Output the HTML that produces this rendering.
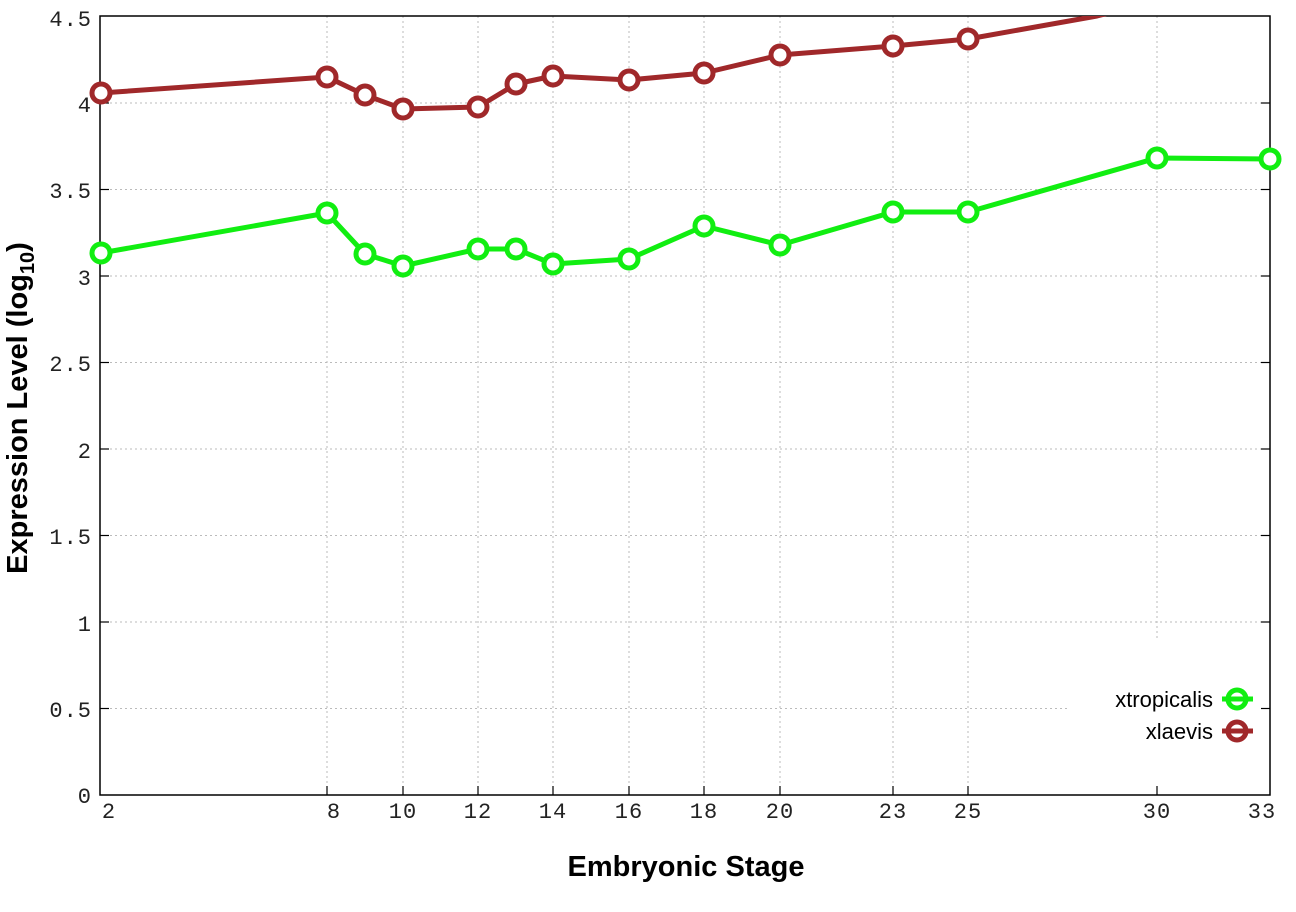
<!DOCTYPE html>
<html><head><meta charset="utf-8"><style>html,body{margin:0;padding:0;background:#fff}</style></head>
<body>
<svg width="1296" height="907" viewBox="0 0 1296 907" xmlns="http://www.w3.org/2000/svg">
<defs><clipPath id="c"><rect x="100" y="16" width="1170" height="779"/></clipPath></defs>
<rect width="1296" height="907" fill="#fff"/>
<g stroke="#bbb" stroke-width="1" stroke-dasharray="2,3">
<line x1="100" y1="103" x2="1270" y2="103"/>
<line x1="100" y1="189.5" x2="1270" y2="189.5"/>
<line x1="100" y1="276" x2="1270" y2="276"/>
<line x1="100" y1="362.5" x2="1270" y2="362.5"/>
<line x1="100" y1="449" x2="1270" y2="449"/>
<line x1="100" y1="535.5" x2="1270" y2="535.5"/>
<line x1="100" y1="622" x2="1270" y2="622"/>
<line x1="100" y1="708.5" x2="1070" y2="708.5"/>
<line x1="327" y1="16" x2="327" y2="795"/>
<line x1="403" y1="16" x2="403" y2="795"/>
<line x1="478" y1="16" x2="478" y2="795"/>
<line x1="553" y1="16" x2="553" y2="795"/>
<line x1="629" y1="16" x2="629" y2="795"/>
<line x1="704" y1="16" x2="704" y2="795"/>
<line x1="780" y1="16" x2="780" y2="795"/>
<line x1="893" y1="16" x2="893" y2="795"/>
<line x1="968" y1="16" x2="968" y2="795"/>
<line x1="1157" y1="16" x2="1157" y2="640"/>
</g>
<rect x="100" y="16" width="1170" height="779" fill="none" stroke="#000" stroke-width="1.5"/>
<g stroke="#000" stroke-width="1.2">
<line x1="100" y1="103" x2="109" y2="103"/><line x1="1261" y1="103" x2="1270" y2="103"/>
<line x1="100" y1="189.5" x2="109" y2="189.5"/><line x1="1261" y1="189.5" x2="1270" y2="189.5"/>
<line x1="100" y1="276" x2="109" y2="276"/><line x1="1261" y1="276" x2="1270" y2="276"/>
<line x1="100" y1="362.5" x2="109" y2="362.5"/><line x1="1261" y1="362.5" x2="1270" y2="362.5"/>
<line x1="100" y1="449" x2="109" y2="449"/><line x1="1261" y1="449" x2="1270" y2="449"/>
<line x1="100" y1="535.5" x2="109" y2="535.5"/><line x1="1261" y1="535.5" x2="1270" y2="535.5"/>
<line x1="100" y1="622" x2="109" y2="622"/><line x1="1261" y1="622" x2="1270" y2="622"/>
<line x1="100" y1="708.5" x2="109" y2="708.5"/><line x1="1261" y1="708.5" x2="1270" y2="708.5"/>
<line x1="327" y1="795" x2="327" y2="786"/><line x1="403" y1="795" x2="403" y2="786"/>
<line x1="478" y1="795" x2="478" y2="786"/><line x1="553" y1="795" x2="553" y2="786"/>
<line x1="629" y1="795" x2="629" y2="786"/><line x1="704" y1="795" x2="704" y2="786"/>
<line x1="780" y1="795" x2="780" y2="786"/><line x1="893" y1="795" x2="893" y2="786"/>
<line x1="968" y1="795" x2="968" y2="786"/><line x1="1157" y1="795" x2="1157" y2="786"/>
</g>
<g font-family="Liberation Mono, monospace" font-size="22" fill="#222" text-anchor="end" letter-spacing="1">
<text x="92" y="26">4.5</text><text x="92" y="112">4</text><text x="92" y="198">3.5</text>
<text x="92" y="285">3</text><text x="92" y="371">2.5</text><text x="92" y="458">2</text>
<text x="92" y="544">1.5</text><text x="92" y="631">1</text><text x="92" y="717">0.5</text>
<text x="92" y="803">0</text>
</g>
<g font-family="Liberation Mono, monospace" font-size="22" fill="#222" text-anchor="middle" letter-spacing="1">
<text x="109" y="818">2</text><text x="334" y="818">8</text><text x="403" y="818">10</text>
<text x="478" y="818">12</text><text x="553" y="818">14</text><text x="629" y="818">16</text>
<text x="704" y="818">18</text><text x="780" y="818">20</text><text x="893" y="818">23</text>
<text x="968" y="818">25</text><text x="1157" y="818">30</text><text x="1262" y="818">33</text>
</g>
<text x="686" y="876" font-family="Liberation Sans, sans-serif" font-weight="bold" font-size="29" text-anchor="middle">Embryonic Stage</text>
<text transform="translate(27,408) rotate(-90)" font-family="Liberation Sans, sans-serif" font-weight="bold" font-size="29" text-anchor="middle">Expression Level (log<tspan font-size="20" dy="7">10</tspan><tspan dy="-7">)</tspan></text>
<g fill="none" stroke-width="5" stroke-linejoin="round">
<polyline clip-path="url(#c)" stroke="#a0282a" points="101,93 327,77 365,95 403,109 478,107 516,84 553,76 629,80 704,73 780,55 893,46 968,39 1097,16 1140,5"/>
<g stroke="#a0282a" stroke-width="5" fill="#fff">
<circle cx="101" cy="93" r="9"/><circle cx="327" cy="77" r="9"/><circle cx="365" cy="95" r="9"/><circle cx="403" cy="109" r="9"/><circle cx="478" cy="107" r="9"/><circle cx="516" cy="84" r="9"/><circle cx="553" cy="76" r="9"/><circle cx="629" cy="80" r="9"/><circle cx="704" cy="73" r="9"/><circle cx="780" cy="55" r="9"/><circle cx="893" cy="46" r="9"/><circle cx="968" cy="39" r="9"/>
</g>
<polyline stroke="#11ee11" points="101,253 327,213 365,254 403,266 478,249 516,249 553,264 629,259 704,226 780,245 893,212 968,212 1157,158 1270,159"/>
<g stroke="#11ee11" stroke-width="5" fill="#fff">
<circle cx="101" cy="253" r="9"/><circle cx="327" cy="213" r="9"/><circle cx="365" cy="254" r="9"/><circle cx="403" cy="266" r="9"/><circle cx="478" cy="249" r="9"/><circle cx="516" cy="249" r="9"/><circle cx="553" cy="264" r="9"/><circle cx="629" cy="259" r="9"/><circle cx="704" cy="226" r="9"/><circle cx="780" cy="245" r="9"/><circle cx="893" cy="212" r="9"/><circle cx="968" cy="212" r="9"/><circle cx="1157" cy="158" r="9"/><circle cx="1270" cy="159" r="9"/>
</g>
</g>
<g font-family="Liberation Sans, sans-serif" font-size="22" fill="#000" text-anchor="end">
<text x="1213" y="707">xtropicalis</text><text x="1213" y="739">xlaevis</text>
</g>
<line x1="1222" y1="699" x2="1253" y2="699" stroke="#11ee11" stroke-width="5"/>
<circle cx="1237" cy="699" r="9" fill="none" stroke="#11ee11" stroke-width="5"/>
<line x1="1222" y1="731" x2="1253" y2="731" stroke="#a0282a" stroke-width="5"/>
<circle cx="1237" cy="731" r="9" fill="none" stroke="#a0282a" stroke-width="5"/>
</svg>
</body></html>
